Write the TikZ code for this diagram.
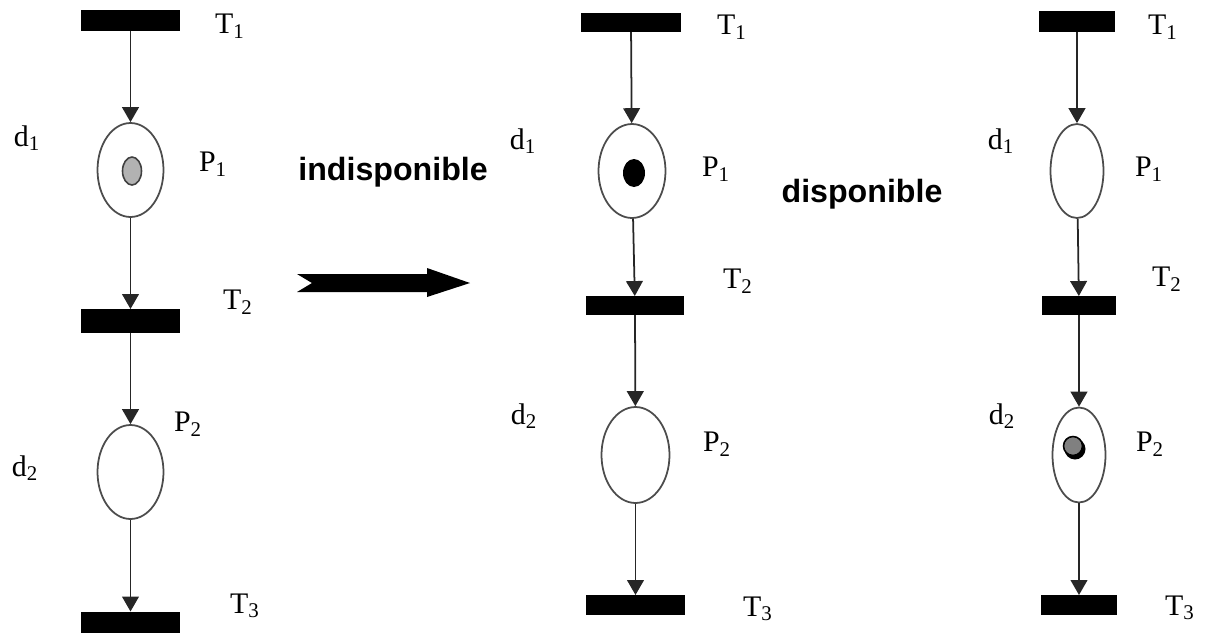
\documentclass[tikz,border=0pt]{standalone}
\usepackage{fontspec}
\setmainfont{Liberation Serif}
\setsansfont{Liberation Sans}
\usepackage{tikz}
\usetikzlibrary{shapes.geometric,arrows.meta}

\begin{document}
\begin{tikzpicture}[x=0.02cm,y=-0.02cm]
\tikzstyle{trans}=[rectangle, fill=black, inner sep=0pt, outer sep=0pt]
\tikzstyle{place}=[ellipse, draw=black!70, line width=1pt, fill=white, inner sep=0pt]
\tikzstyle{arc}=[draw=black!85, line width=1pt, -{Triangle[length=8.5pt,width=9.5pt]}]
\tikzstyle{lab}=[inner sep=0pt, font=\fontsize{17}{20}\selectfont]
\tikzstyle{word}=[inner sep=0pt, font=\sffamily\bfseries\fontsize{18.3}{22}\selectfont]
\useasboundingbox (0,0) rectangle (1205,633);
\foreach \p/\n/\w/\h in {(130.5,20)/tA1/1.98cm/0.42cm,(130.5,321)/tA2/1.98cm/0.48cm,(130.5,622)/tA3/1.98cm/0.42cm,
(631,22.5)/tB1/2.02cm/0.38cm,(635,305.5)/tB2/1.98cm/0.38cm,(635.5,605)/tB3/1.98cm/0.40cm,
(1077,21.5)/tC1/1.54cm/0.42cm,(1079,305.5)/tC2/1.50cm/0.38cm,(1079,605)/tC3/1.52cm/0.40cm}
\node[trans, minimum width=\w, minimum height=\h] (\n) at \p {};
\foreach \p/\n/\w/\h in {(130.5,170)/pA1/1.32cm/1.88cm,(130.5,472)/pA2/1.32cm/1.88cm,
(632,171)/pB1/1.34cm/1.88cm,(635.5,455)/pB2/1.36cm/1.92cm,
(1077,171)/pC1/1.06cm/1.88cm,(1079,455)/pC2/1.06cm/1.90cm}
\node[place, minimum width=\w, minimum height=\h] (\n) at \p {};
\foreach \a/\b in {tA1/pA1,pA1/tA2,tA2/pA2,pA2/tA3,tB1/pB1,pB1/tB2,tB2/pB2,pB2/tB3,tC1/pC1,pC1/tC2,tC2/pC2,pC2/tC3}
\draw[arc] (\a) -- (\b);
\node[ellipse, fill=black!30, draw=black!75, line width=0.9pt, inner sep=0pt, minimum width=0.38cm, minimum height=0.56cm] (kA) at (132,171) {};
\node[ellipse, fill=black, inner sep=0pt, minimum width=0.44cm, minimum height=0.56cm] (kB) at (634,173) {};
\node[circle, fill=black, inner sep=0pt, minimum size=0.42cm] (kCs) at (1075,449) {};
\node[circle, fill=black!50, draw=black, line width=0.9pt, inner sep=0pt, minimum size=0.38cm] (kC) at (1073,446) {};
\foreach \p/\n/\t in {(230,26)/lA1/T\textsubscript{1},(213,164)/lA2/P\textsubscript{1},(27,138)/lA3/d\textsubscript{1},
(238,302)/lA4/T\textsubscript{2},(188,424)/lA5/P\textsubscript{2},(25,468)/lA6/d\textsubscript{2},(245,606)/lA7/T\textsubscript{3},
(732,27)/lB1/T\textsubscript{1},(716,169)/lB2/P\textsubscript{1},(523,141)/lB3/d\textsubscript{1},
(738,281)/lB4/T\textsubscript{2},(717,444)/lB5/P\textsubscript{2},(524,416)/lB6/d\textsubscript{2},(758,609)/lB7/T\textsubscript{3},
(1163,27)/lC1/T\textsubscript{1},(1149,169)/lC2/P\textsubscript{1},(1001,141)/lC3/d\textsubscript{1},
(1167,279)/lC4/T\textsubscript{2},(1150,444)/lC5/P\textsubscript{2},(1002,416)/lC6/d\textsubscript{2},(1180,608)/lC7/T\textsubscript{3}}
\node[lab] (\n) at \p {\t};
\node[word] (wIndisp) at (393,172) {indisponible};
\node[word] (wDisp) at (862,194) {disponible};
\fill (297,274) -- (427,274) -- (427,268) -- (470,283) -- (427,297) -- (427,292) -- (297,292) -- (312,283) -- cycle;
\end{tikzpicture}
\end{document}
